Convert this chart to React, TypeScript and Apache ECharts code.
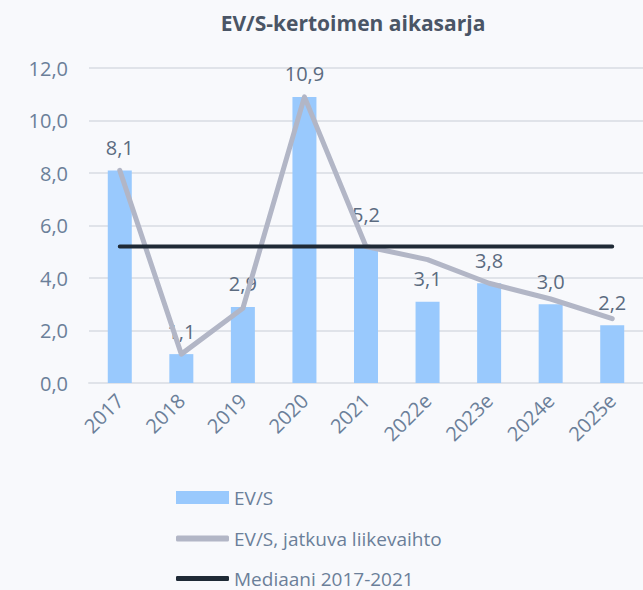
import React, { useEffect, useRef } from "react";
import * as echarts from "echarts";

const categories = ["2017", "2018", "2019", "2020", "2021", "2022e", "2023e", "2024e", "2025e"];
const evsValues = [8.1, 1.1, 2.9, 10.9, 5.2, 3.1, 3.8, 3.0, 2.2];
const evsContinuing = [8.1, 1.1, 2.85, 10.9, 5.2, 4.7, 3.8, 3.2, 2.45];
const medianValues = [5.2, 5.2, 5.2, 5.2, 5.2, 5.2, 5.2, 5.2, 5.2];
const legendNames = ["EV/S", "EV/S, jatkuva liikevaihto", "Mediaani 2017-2021"];

const FONT = "Open Sans";
const TXT = "#6b7f99";
const fmt = (v: number) => v.toFixed(1).replace(".", ",");

export default function App() {
  const ref = useRef<HTMLDivElement>(null);
  useEffect(() => {
    if (!ref.current) return;
    const chart = echarts.init(ref.current, null, { renderer: "svg" });
    const legendBase = {
      orient: "horizontal",
      left: 171,
      itemWidth: 53,
      textStyle: { fontFamily: FONT, fontSize: 19, color: TXT },
    };
    chart.setOption({
      animation: false,
      backgroundColor: "#f8f9fc",
      title: {
        text: "EV/S-kertoimen aikasarja",
        left: 348,
        textAlign: "center",
        top: 7,
        textStyle: { fontFamily: FONT, fontSize: 21, fontWeight: "bold", color: "#4a5566" },
      },
      grid: { left: 89, right: -4, top: 68, bottom: 207 },
      legend: [
        { ...legendBase, top: 483, itemHeight: 13, data: [{ name: legendNames[0], icon: "rect" }] },
        { ...legendBase, top: 524, itemHeight: 6, data: [{ name: legendNames[1], icon: "roundRect" }] },
        { ...legendBase, top: 564, itemHeight: 5, data: [{ name: legendNames[2], icon: "roundRect" }] },
      ],
      xAxis: {
        type: "category",
        data: categories,
        axisLine: { show: true, lineStyle: { color: "#e0e3e9", width: 2 } },
        axisTick: { show: false },
        axisLabel: { rotate: 45, margin: 14, fontFamily: FONT, fontSize: 20, color: TXT, interval: 0 },
      },
      yAxis: {
        type: "value",
        min: 0,
        max: 12,
        interval: 2,
        axisLabel: { formatter: (v: number) => fmt(v), margin: 21, fontFamily: FONT, fontSize: 20, color: TXT },
        axisLine: { show: false },
        axisTick: { show: false },
        splitLine: { lineStyle: { color: "#e0e3e9", width: 2 } },
      },
      series: [
        {
          name: legendNames[0],
          type: "bar",
          data: evsValues.map((v, i) =>
            i === 4 ? { value: v, label: { distance: 22 } } : v
          ),
          barWidth: 24,
          itemStyle: { color: "#99c9fd" },
          label: {
            show: true,
            position: "top",
            distance: 13,
            formatter: (p: any) => fmt(p.value),
            fontFamily: FONT,
            fontSize: 20,
            color: "#5b6b80",
          },
          z: 1,
        },
        {
          name: legendNames[1],
          type: "line",
          data: evsContinuing,
          symbol: "none",
          lineStyle: { color: "#b2b6c6", width: 5, cap: "round", join: "round" },
          itemStyle: { color: "#b2b6c6" },
          z: 3,
        },
        {
          name: legendNames[2],
          type: "line",
          data: medianValues,
          symbol: "none",
          lineStyle: { color: "#1f2a36", width: 4, cap: "round" },
          itemStyle: { color: "#1f2a36" },
          z: 4,
        },
      ],
    });
    return () => chart.dispose();
  }, []);
  return (
    <div
      ref={ref}
      style={{ position: "fixed", left: 0, top: 0, width: 643, height: 590 }}
    />
  );
}
